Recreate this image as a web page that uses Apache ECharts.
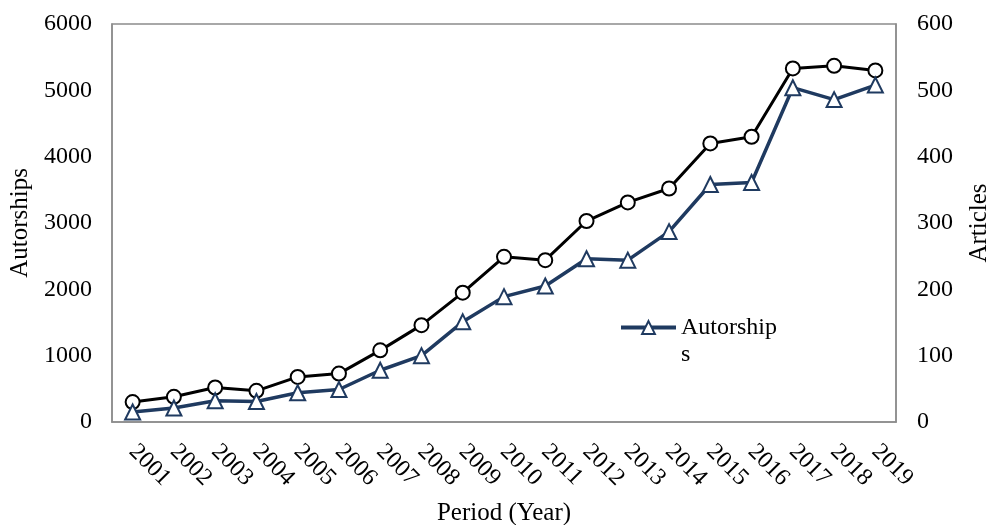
<!DOCTYPE html>
<html><head><meta charset="utf-8">
<script src="https://cdn.jsdelivr.net/npm/echarts@6/dist/echarts.min.js"></script>
<style>html,body{margin:0;padding:0;background:#fff}#c{width:992px;height:525px}</style>
</head><body><div id="c"></div>
<script>
const years = ['2001','2002','2003','2004','2005','2006','2007','2008','2009','2010','2011','2012','2013','2014','2015','2016','2017','2018','2019'];
const autorships = [150, 210, 320, 310, 440, 490, 780, 1000, 1510, 1890, 2050, 2460, 2440, 2870, 3580, 3610, 5040, 4860, 5080];
const articles = [30, 38, 52, 47, 68, 73, 108, 146, 195, 249, 244, 303, 331, 352, 420, 430, 533, 537, 530];
const leftTicks = [0, 6000, 1000];
const rightTicks = [0, 600, 100];

const FONT = 'Liberation Serif';
const plain = function (v) { return String(v); };
const chart = echarts.init(document.getElementById('c'));
chart.setOption({
  animation: false,
  backgroundColor: '#fff',
  textStyle: {fontFamily: FONT, color: '#000'},
  grid: {left: 112, right: 96, top: 24, bottom: 103, containLabel: false, outerBoundsMode: 'none',
         show: true, borderColor: '#8c8c8c', borderWidth: 1.5, backgroundColor: '#fff'},
  legend: {
    data: ['Autorships'], left: 619, top: 287, padding: 0, itemWidth: 55, itemHeight: 16, itemGap: 4,
    lineStyle: {width: 4},
    formatter: function () { return '\nAutorship\ns'; },
    textStyle: {fontFamily: FONT, fontSize: 24, color: '#000', lineHeight: 27}
  },
  xAxis: {
    type: 'category', data: years, boundaryGap: true,
    name: 'Period (Year)', nameLocation: 'middle', nameGap: 79,
    nameTextStyle: {fontFamily: FONT, fontSize: 25, color: '#000'},
    axisLine: {show: true, lineStyle: {color: '#8c8c8c', width: 1.5}},
    axisTick: {show: false},
    axisLabel: {rotate: -45, fontFamily: FONT, fontSize: 24, color: '#000', margin: 26, interval: 0},
    splitLine: {show: false}
  },
  yAxis: [{
    type: 'value', min: leftTicks[0], max: leftTicks[1], interval: leftTicks[2],
    name: 'Autorships', nameLocation: 'middle', nameGap: 76, nameRotate: 90,
    nameTextStyle: {fontFamily: FONT, fontSize: 25, color: '#000'},
    axisLine: {show: true, lineStyle: {color: '#8c8c8c', width: 1.5}},
    axisTick: {show: false},
    axisLabel: {fontFamily: FONT, fontSize: 24, color: '#000', margin: 20, formatter: plain},
    splitLine: {show: false}
  }, {
    type: 'value', min: rightTicks[0], max: rightTicks[1], interval: rightTicks[2], position: 'right',
    name: 'Articles', nameLocation: 'middle', nameGap: 71, nameRotate: 90,
    nameTextStyle: {fontFamily: FONT, fontSize: 25, color: '#000'},
    axisLine: {show: true, lineStyle: {color: '#8c8c8c', width: 1.5}},
    axisTick: {show: false},
    axisLabel: {fontFamily: FONT, fontSize: 24, color: '#000', margin: 21, formatter: plain},
    splitLine: {show: false}
  }],
  series: [{
    name: 'Articles', type: 'line', yAxisIndex: 1, data: articles,
    symbol: 'circle', symbolSize: 14, showAllSymbol: true,
    lineStyle: {color: '#000', width: 3},
    itemStyle: {color: '#fff', borderColor: '#000', borderWidth: 2}
  }, {
    name: 'Autorships', type: 'line', yAxisIndex: 0, data: autorships,
    symbol: 'triangle', symbolSize: 15, showAllSymbol: true,
    lineStyle: {color: '#1f3a60', width: 3.5},
    itemStyle: {color: '#fff', borderColor: '#1f3a60', borderWidth: 2}
  }]
});
</script></body></html>
